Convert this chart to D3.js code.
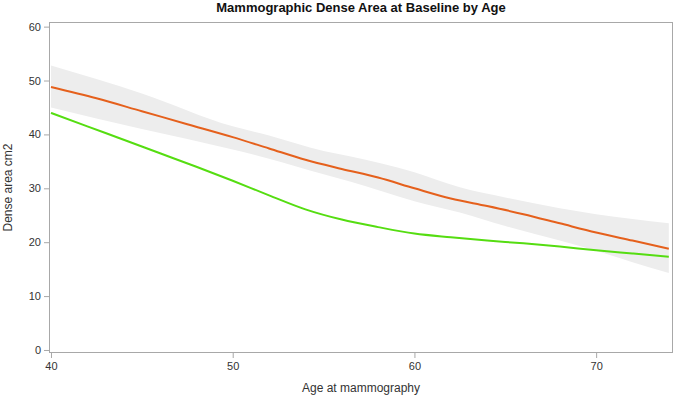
<!DOCTYPE html>
<html>
<head>
<meta charset="utf-8">
<script src="https://cdn.jsdelivr.net/npm/d3@7"></script>
<style>
  html, body { margin: 0; padding: 0; background: #fff; }
  svg { display: block; font-family: "Liberation Sans", Arial, sans-serif; }
</style>
</head>
<body>
<svg id="chart" width="676" height="398"></svg>
<script>
const title = "Mammographic Dense Area at Baseline by Age";
const xLabel = "Age at mammography";
const yLabel = "Dense area cm2";
const xTicks = [40, 50, 60, 70];
const yTicks = [0, 10, 20, 30, 40, 50, 60];

const orangeAge = [40, 42.5, 45, 47.5, 50, 52, 54, 56, 58, 60, 62, 64, 66, 68, 70, 72, 74];
const orangeVal = [48.8, 46.7, 44.3, 41.9, 39.5, 37.4, 35.3, 33.6, 32.0, 30.0, 28.1, 26.7, 25.2, 23.5, 21.8, 20.3, 18.8];

const greenAge = [40, 42, 44, 46, 48, 50, 52, 54, 56, 58, 60, 62, 64, 66, 68, 70, 72, 74];
const greenVal = [44.0, 41.5, 39.0, 36.5, 34.0, 31.4, 28.7, 26.1, 24.2, 22.8, 21.6, 20.9, 20.3, 19.8, 19.2, 18.5, 17.9, 17.3];

const bandAge = [40, 45, 50, 52, 55, 56.5, 60, 62.5, 65, 68, 70, 72, 74];
const bandUpper = [52.8, 47.6, 41.5, 39.8, 36.9, 35.9, 33.0, 30.2, 28.3, 26.3, 25.2, 24.3, 23.5];
const bandLower = [45.0, 41.0, 37.2, 35.5, 32.6, 31.2, 27.6, 25.5, 23.0, 20.3, 18.4, 16.3, 14.3];

const svg = d3.select("#chart");
const L = 49, R = 673, T = 22, B = 353;

const x = d3.scaleLinear().domain([39.89, 74.23]).range([L, R]);
const y = d3.scaleLinear().domain([-0.56, 60.86]).range([B, T]);

// band
const bandData = bandAge.map((a, i) => ({a, u: bandUpper[i], l: bandLower[i]}));
svg.append("path")
  .datum(bandData)
  .attr("fill", "#ededed")
  .attr("d", d3.area().x(d => x(d.a)).y0(d => y(d.l)).y1(d => y(d.u)).curve(d3.curveMonotoneX));

const line = d3.line().x(d => x(d[0])).y(d => y(d[1])).curve(d3.curveMonotoneX);

svg.append("path")
  .datum(greenAge.map((a, i) => [a, greenVal[i]]))
  .attr("fill", "none").attr("stroke", "#55dd11").attr("stroke-width", 2)
  .attr("d", line);

svg.append("path")
  .datum(orangeAge.map((a, i) => [a, orangeVal[i]]))
  .attr("fill", "none").attr("stroke", "#e5601c").attr("stroke-width", 2)
  .attr("d", line);

// frame
svg.append("rect")
  .attr("x", L + 0.5).attr("y", T + 0.5)
  .attr("width", R - L - 1).attr("height", B - T - 1)
  .attr("fill", "none").attr("stroke", "#a8a8a8");

// axes
const gx = svg.append("g").attr("transform", `translate(0,${B})`)
  .call(d3.axisBottom(x).tickValues(xTicks).tickSize(5).tickPadding(4));
const gy = svg.append("g").attr("transform", `translate(${L},0)`)
  .call(d3.axisLeft(y).tickValues(yTicks).tickSize(5).tickPadding(3));
[gx, gy].forEach(g => {
  g.select(".domain").remove();
  g.selectAll(".tick line").attr("stroke", "#a8a8a8");
  g.selectAll(".tick text").attr("fill", "#333").style("font-size", "11px")
    .style("font-family", "'Liberation Sans', Arial, sans-serif");
});

svg.append("text")
  .attr("x", (L + R) / 2).attr("y", 12)
  .attr("text-anchor", "middle")
  .style("font-size", "13px").style("font-weight", "bold").attr("fill", "#111")
  .text(title);

svg.append("text")
  .attr("x", (L + R) / 2).attr("y", 392)
  .attr("text-anchor", "middle")
  .style("font-size", "12px").attr("fill", "#333")
  .text(xLabel);

svg.append("text")
  .attr("transform", `translate(12,${(T + B) / 2}) rotate(-90)`)
  .attr("text-anchor", "middle")
  .style("font-size", "12px").attr("fill", "#333")
  .text(yLabel);
</script>
</body>
</html>
